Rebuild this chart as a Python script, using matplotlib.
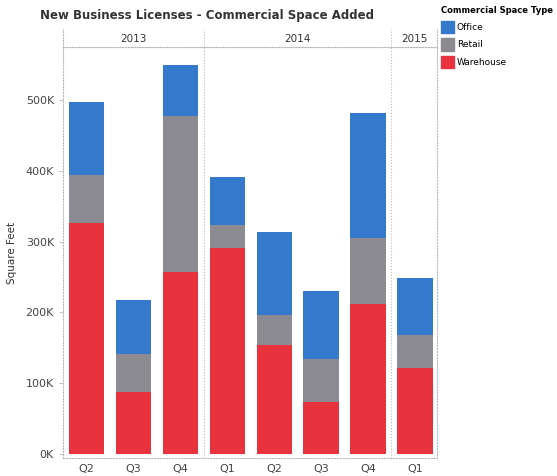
import numpy as np
import matplotlib.pyplot as plt
from matplotlib.patches import Patch
from matplotlib.ticker import FuncFormatter

# data (square feet, thousands)
years = ['2013', '2014', '2015']
quarters = ['Q2', 'Q3', 'Q4', 'Q1', 'Q2', 'Q3', 'Q4', 'Q1']
year_of_bar = ['2013', '2013', '2013', '2014', '2014', '2014', '2014', '2015']
warehouse = [326, 88, 257, 291, 154, 73, 212, 121]
retail = [68, 53, 220, 32, 42, 61, 93, 47]
office = [103, 77, 72, 68, 118, 96, 177, 81]

c_office = '#3479cc'
c_retail = '#8b8b91'
c_ware = '#e8333f'
dot = '#b8b8b8'

W, H = 557, 476
fig = plt.figure(figsize=(W / 100, H / 100), dpi=100)

x = np.arange(len(quarters))
wh = np.array(warehouse) * 1000
rt = np.array(retail) * 1000
of = np.array(office) * 1000

ax = fig.add_axes([63 / W, 1 - 458 / H, (437 - 63) / W, (458 - 47) / H])
ax.bar(x, wh, width=0.75, color=c_ware)
ax.bar(x, rt, width=0.75, bottom=wh, color=c_retail)
ax.bar(x, of, width=0.75, bottom=wh + rt, color=c_office)
ax.set_xlim(-0.5, 7.47)
ax.set_ylim(-6000, 575000)
ax.set_yticks(np.arange(0, 500001, 100000))
ax.yaxis.set_major_formatter(FuncFormatter(lambda v, p: f'{int(v / 1000)}K'))
ax.set_xticks(x)
ax.set_xticklabels(quarters)
ax.tick_params(axis='both', labelsize=8, colors='#444444', length=3, width=0.6)
ax.tick_params(axis='both', color=dot)
ax.tick_params(axis='x', length=0, pad=4)
for s in ax.spines.values():
    s.set_linestyle(':')
    s.set_color(dot)
    s.set_linewidth(0.8)
ax.set_ylabel('Square Feet', fontsize=7.5, color='#333333', labelpad=6)

# year panel separators
bounds = []
for i in range(1, len(year_of_bar)):
    if year_of_bar[i] != year_of_bar[i - 1]:
        bounds.append(i - 0.5)
for b in bounds:
    ax.axvline(b, color=dot, ls=':', lw=0.8)

# header row with years
hax = fig.add_axes([63 / W, 1 - 47 / H, (437 - 63) / W, (47 - 29) / H])
hax.set_xlim(ax.get_xlim())
hax.set_ylim(0, 1)
hax.set_xticks([])
hax.set_yticks([])
for s in hax.spines.values():
    s.set_linestyle(':')
    s.set_color(dot)
    s.set_linewidth(0.8)
hax.spines['top'].set_visible(False)
edges = [-0.5] + bounds + [7.47]
for b in bounds:
    hax.axvline(b, color=dot, ls=':', lw=0.8)
for i, y in enumerate(years):
    hax.text((edges[i] + edges[i + 1]) / 2, 0.45, y, ha='center', va='center',
             fontsize=7.5, color='#333333')

fig.text(207 / W, 1 - 15 / H, 'New Business Licenses - Commercial Space Added',
         ha='center', va='center', fontsize=8.5, fontweight='bold', color='#333333')

handles = [Patch(color=c_office, label='Office'),
           Patch(color=c_retail, label='Retail'),
           Patch(color=c_ware, label='Warehouse')]
leg = fig.legend(handles=handles, loc='upper left', bbox_to_anchor=(436 / W, 1 - 1 / H),
                 frameon=False, fontsize=6.5, title='Commercial Space Type',
                 title_fontsize=6, handlelength=1.4, handleheight=1.7,
                 handletextpad=0.3, labelspacing=0.6, alignment='left',
                 borderaxespad=0.2)
leg.get_title().set_fontweight('bold')

fig.savefig('out.png', dpi=100)
